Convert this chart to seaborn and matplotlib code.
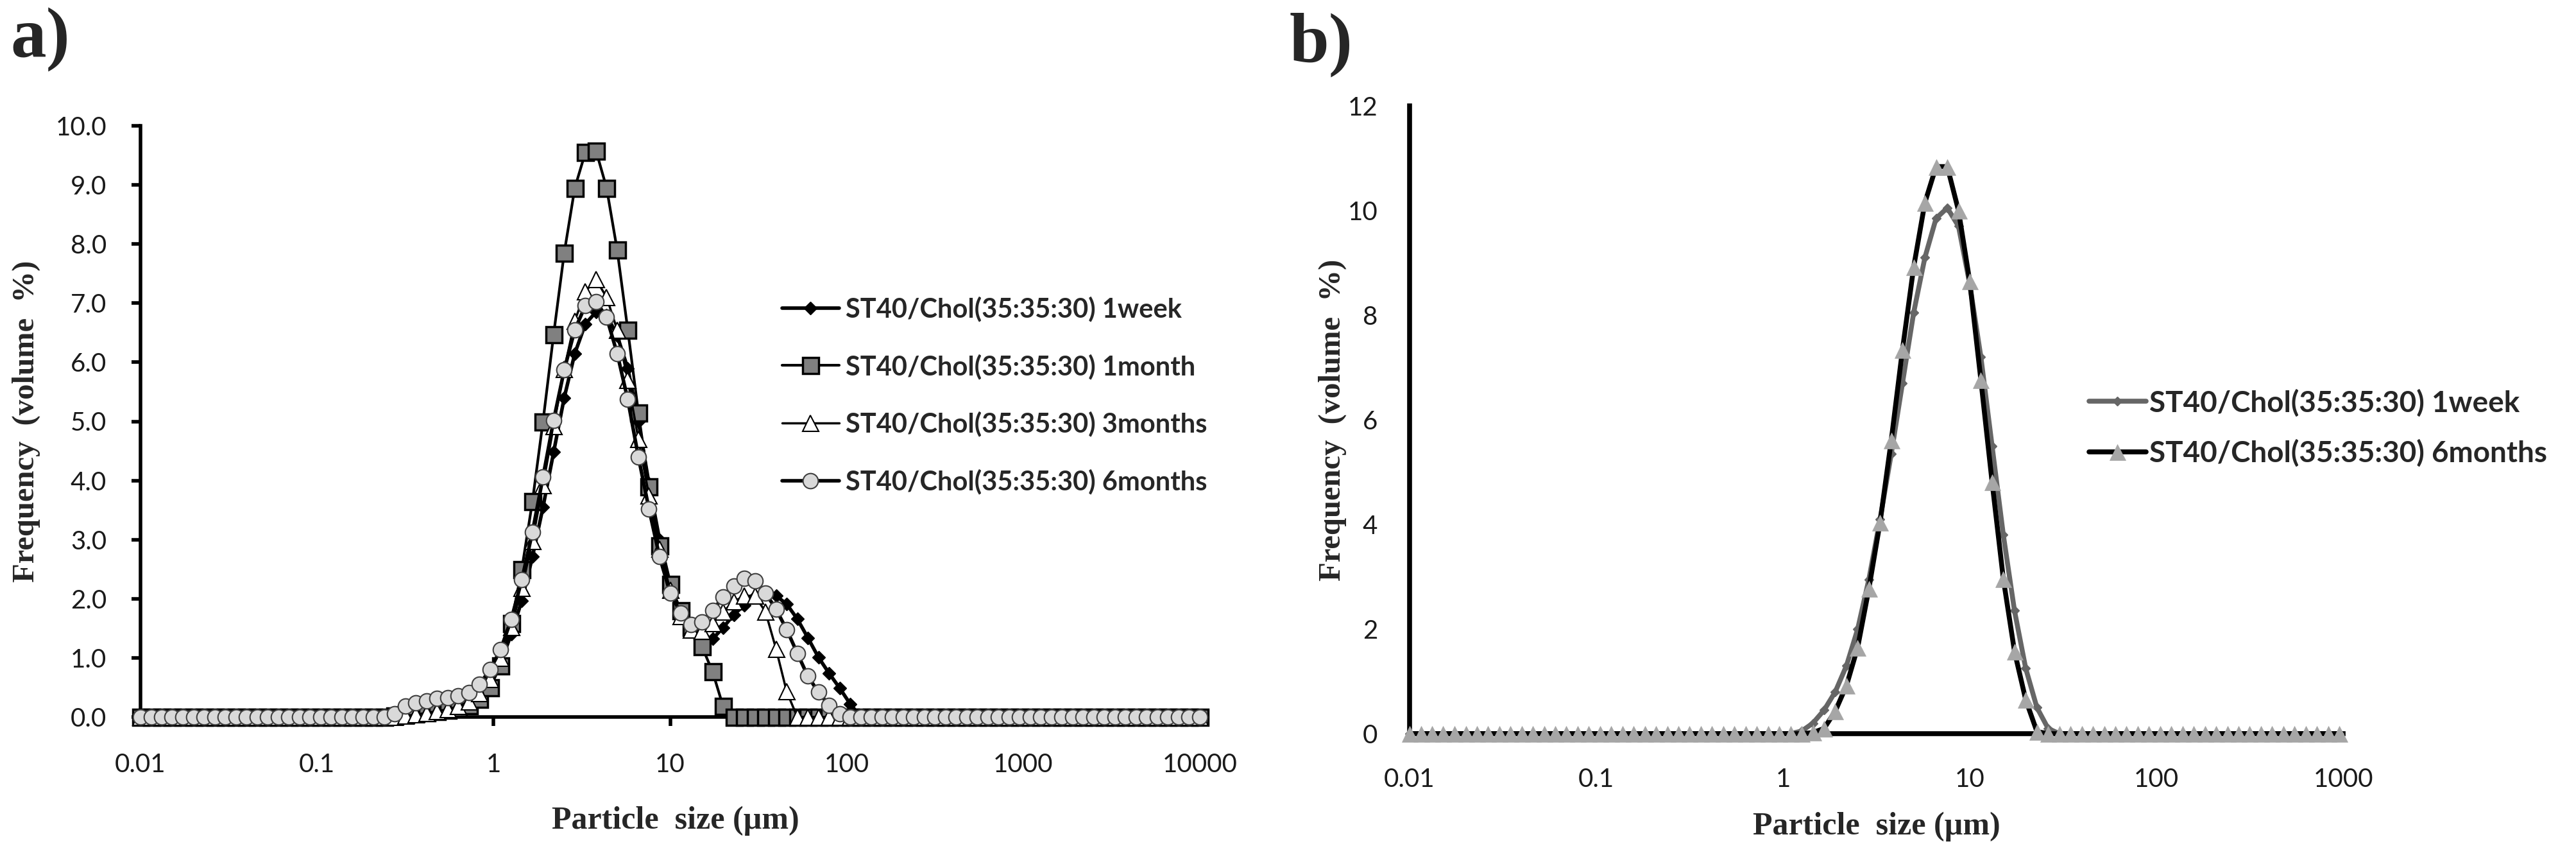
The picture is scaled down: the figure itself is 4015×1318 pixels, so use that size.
import matplotlib
matplotlib.use("Agg")
import matplotlib.pyplot as plt
from matplotlib.ticker import FormatStrFormatter, NullLocator
import seaborn as sns

# Size classes of the laser diffraction instrument (um)
size_a = [0.01, 0.0115, 0.0132, 0.0151, 0.0174, 0.0200, 0.0229, 0.0263, 0.0302, 0.0347,
          0.0398, 0.0457, 0.0525, 0.0603, 0.0692, 0.0794, 0.0912, 0.105, 0.120, 0.138,
          0.158, 0.182, 0.209, 0.240, 0.275, 0.316, 0.363, 0.417, 0.479, 0.550,
          0.631, 0.724, 0.832, 0.955, 1.096, 1.259, 1.445, 1.660, 1.905, 2.188,
          2.512, 2.884, 3.311, 3.802, 4.365, 5.012, 5.754, 6.607, 7.586, 8.710,
          10.0, 11.48, 13.18, 15.14, 17.38, 19.95, 22.91, 26.30, 30.20, 34.67,
          39.81, 45.71, 52.48, 60.26, 69.18, 79.43, 91.20, 104.7, 120.2, 138.0,
          158.5, 182.0, 208.9, 239.9, 275.4, 316.2, 363.1, 416.9, 478.6, 549.5,
          631.0, 724.4, 831.8, 955.0, 1096, 1259, 1445, 1660, 1905, 2188,
          2512, 2884, 3311, 3802, 4365, 5012, 5754, 6607, 7586, 8710,
          10000]
size_b = size_a[:84]

# panel a: volume % per size class
week1_a = [0, 0, 0, 0, 0, 0, 0, 0, 0, 0,
           0, 0, 0, 0, 0, 0, 0, 0, 0, 0,
           0, 0, 0, 0, 0.01, 0.03, 0.05, 0.07, 0.09, 0.11,
           0.15, 0.22, 0.35, 0.57, 0.92, 1.40, 1.97, 2.71, 3.55, 4.48,
           5.40, 6.15, 6.65, 6.85, 6.80, 6.45, 5.90, 5.00, 3.95, 3.00,
           2.25, 1.75, 1.50, 1.38, 1.32, 1.51, 1.73, 1.89, 2.04, 2.09,
           2.05, 1.91, 1.66, 1.34, 1.01, 0.74, 0.49, 0.22, 0, 0,
           0, 0, 0, 0, 0, 0, 0, 0, 0, 0,
           0, 0, 0, 0, 0, 0, 0, 0, 0, 0,
           0, 0, 0, 0, 0, 0, 0, 0, 0, 0,
           0]
month1_a = [0, 0, 0, 0, 0, 0, 0, 0, 0, 0,
            0, 0, 0, 0, 0, 0, 0, 0, 0, 0,
            0, 0, 0, 0, 0.02, 0.04, 0.06, 0.08, 0.10, 0.12,
            0.15, 0.20, 0.30, 0.50, 0.87, 1.58, 2.50, 3.65, 5.00, 6.47,
            7.85, 8.95, 9.55, 9.58, 8.95, 7.90, 6.55, 5.15, 3.90, 2.90,
            2.25, 1.80, 1.52, 1.19, 0.77, 0.18, 0, 0, 0, 0,
            0, 0, 0, 0, 0, 0, 0, 0, 0, 0,
            0, 0, 0, 0, 0, 0, 0, 0, 0, 0,
            0, 0, 0, 0, 0, 0, 0, 0, 0, 0,
            0, 0, 0, 0, 0, 0, 0, 0, 0, 0,
            0]
month3_a = [0, 0, 0, 0, 0, 0, 0, 0, 0, 0,
            0, 0, 0, 0, 0, 0, 0, 0, 0, 0,
            0, 0, 0, 0, 0, 0.02, 0.04, 0.07, 0.10, 0.13,
            0.18, 0.26, 0.40, 0.64, 1.00, 1.52, 2.18, 2.98, 3.92, 4.92,
            5.88, 6.70, 7.20, 7.40, 7.10, 6.55, 5.70, 4.70, 3.75, 2.85,
            2.15, 1.70, 1.48, 1.45, 1.58, 1.78, 1.95, 2.05, 2.05, 1.78,
            1.15, 0.43, 0, 0, 0, 0, 0, 0, 0, 0,
            0, 0, 0, 0, 0, 0, 0, 0, 0, 0,
            0, 0, 0, 0, 0, 0, 0, 0, 0, 0,
            0, 0, 0, 0, 0, 0, 0, 0, 0, 0,
            0]
month6_a = [0, 0, 0, 0, 0, 0, 0, 0, 0, 0,
            0, 0, 0, 0, 0, 0, 0, 0, 0, 0,
            0, 0, 0, 0, 0.05, 0.18, 0.24, 0.27, 0.31, 0.33,
            0.36, 0.41, 0.55, 0.80, 1.14, 1.65, 2.32, 3.13, 4.06, 5.02,
            5.87, 6.55, 6.96, 7.03, 6.76, 6.15, 5.37, 4.40, 3.52, 2.71,
            2.10, 1.76, 1.56, 1.61, 1.80, 2.03, 2.21, 2.34, 2.30, 2.10,
            1.82, 1.48, 1.08, 0.69, 0.42, 0.20, 0.05, 0, 0, 0,
            0, 0, 0, 0, 0, 0, 0, 0, 0, 0,
            0, 0, 0, 0, 0, 0, 0, 0, 0, 0,
            0, 0, 0, 0, 0, 0, 0, 0, 0, 0,
            0]

# panel b
week1_b = [0, 0, 0, 0, 0, 0, 0, 0, 0, 0,
           0, 0, 0, 0, 0, 0, 0, 0, 0, 0,
           0, 0, 0, 0, 0, 0, 0, 0, 0, 0,
           0, 0, 0, 0, 0, 0.05, 0.20, 0.45, 0.80, 1.30,
           2.00, 2.95, 4.10, 5.35, 6.70, 8.05, 9.10, 9.85, 10.05, 9.70,
           8.60, 7.20, 5.50, 3.80, 2.35, 1.25, 0.50, 0.10, 0, 0,
           0, 0, 0, 0, 0, 0, 0, 0, 0, 0,
           0, 0, 0, 0, 0, 0, 0, 0, 0, 0,
           0, 0, 0, 0]
month6_b = [0, 0, 0, 0, 0, 0, 0, 0, 0, 0,
            0, 0, 0, 0, 0, 0, 0, 0, 0, 0,
            0, 0, 0, 0, 0, 0, 0, 0, 0, 0,
            0, 0, 0, 0, 0, 0, 0.02, 0.10, 0.43, 0.92,
            1.65, 2.77, 4.04, 5.61, 7.34, 8.92, 10.15, 10.84, 10.84, 10.00,
            8.65, 6.76, 4.81, 2.96, 1.57, 0.65, 0.04, 0, 0, 0,
            0, 0, 0, 0, 0, 0, 0, 0, 0, 0,
            0, 0, 0, 0, 0, 0, 0, 0, 0, 0,
            0, 0, 0, 0]

labels_a = ["ST40/Chol(35:35:30) 1week", "ST40/Chol(35:35:30) 1month",
            "ST40/Chol(35:35:30) 3months", "ST40/Chol(35:35:30) 6months"]
labels_b = ["ST40/Chol(35:35:30) 1week", "ST40/Chol(35:35:30) 6months"]

xticks_a = [0.01, 0.1, 1, 10, 100, 1000, 10000]
xticks_b = [0.01, 0.1, 1, 10, 100, 1000]
xticklabels_a = ["0.01", "0.1", "1", "10", "100", "1000", "10000"]
xticklabels_b = ["0.01", "0.1", "1", "10", "100", "1000"]
yticks_a = [0, 1, 2, 3, 4, 5, 6, 7, 8, 9, 10]
yticks_b = [0, 2, 4, 6, 8, 10, 12]

sns.set_theme(style="white")
plt.rcParams['font.family'] = ['Lato', 'DejaVu Sans']

W, H = 4016, 1318
fig = plt.figure(figsize=(W / 100, H / 100), dpi=100)


def box(l, t, r, b):
    return [l / W, 1 - b / H, (r - l) / W, (b - t) / H]


ax_a = fig.add_axes(box(219, 196, 1870, 1117))
ax_b = fig.add_axes(box(2197, 165, 3652, 1143))

common = dict(clip_on=False, zorder=3)

# ---- panel a
sns.lineplot(x=size_a, y=week1_a, ax=ax_a, color='black', linewidth=4, marker='D', markersize=10,
             markerfacecolor='black', markeredgecolor='black', markeredgewidth=1,
             label=labels_a[0], **common)
sns.lineplot(x=size_a, y=month1_a, ax=ax_a, color='black', linewidth=3, marker='s', markersize=18,
             markerfacecolor='#808080', markeredgecolor='black', markeredgewidth=2.5,
             label=labels_a[1], **common)
sns.lineplot(x=size_a, y=month3_a, ax=ax_a, color='black', linewidth=2.5, marker='^', markersize=18,
             markerfacecolor='white', markeredgecolor='black', markeredgewidth=1.5,
             label=labels_a[2], **common)
sns.lineplot(x=size_a, y=month6_a, ax=ax_a, color='black', linewidth=4, marker='o', markersize=17,
             markerfacecolor='#d9d9d9', markeredgecolor='#404040', markeredgewidth=1.5,
             label=labels_a[3], **common)

# ---- panel b
sns.lineplot(x=size_b, y=week1_b, ax=ax_b, color='#666666', linewidth=5.5, marker='D', markersize=7,
             markerfacecolor='#666666', markeredgecolor='#666666', markeredgewidth=1,
             label=labels_b[0], **common)
sns.lineplot(x=size_b, y=month6_b, ax=ax_b, color='black', linewidth=5.5, marker='^', markersize=18,
             markerfacecolor='#a6a6a6', markeredgecolor='#a6a6a6', markeredgewidth=0.5,
             label=labels_b[1], **common)

serif = dict(family='Liberation Serif', weight='bold')

for ax, xt, xtl, yt, ymax, spw in [(ax_a, xticks_a, xticklabels_a, yticks_a, 10, 4),
                                   (ax_b, xticks_b, xticklabels_b, yticks_b, 12, 5.5)]:
    ax.set_xscale('log')
    ax.set_xlim(xt[0], xt[-1])
    ax.set_ylim(0, ymax)
    ax.set_xticks(xt)
    ax.set_xticklabels(xtl)
    ax.xaxis.set_minor_locator(NullLocator())
    ax.set_yticks(yt)
    ax.spines['top'].set_visible(False)
    ax.spines['right'].set_visible(False)
    for s in ('left', 'bottom'):
        ax.spines[s].set_linewidth(spw)
        ax.spines[s].set_color('black')
    ax.set_facecolor('white')
    for lab in ax.get_xticklabels() + ax.get_yticklabels():
        lab.set_fontsize(29)
        lab.set_color('#1a1a1a')
    ax.set_xlabel("Particle  size (\u00b5m)", fontsize=36, va='center', **serif)
    ax.set_ylabel("Frequency  (volume  %)", fontsize=35, va='center', **serif)

ax_a.yaxis.set_major_formatter(FormatStrFormatter('%.1f'))
ax_a.tick_params(axis='both', which='major', bottom=True, left=True, direction='out',
                 length=10, width=4, color='black')
ax_a.tick_params(axis='x', pad=30)
ax_a.tick_params(axis='y', pad=28)
ax_b.tick_params(axis='both', which='major', bottom=False, left=False, length=0)
ax_b.tick_params(axis='x', pad=38)
ax_b.tick_params(axis='y', pad=36)

ax_a.xaxis.set_label_coords(0.505, (1117 - 1279) / 921)
ax_a.yaxis.set_label_coords((41 - 219) / 1651, 0.5)
ax_b.xaxis.set_label_coords(0.5, (1143 - 1288) / 978)
ax_b.yaxis.set_label_coords((2077 - 2197) / 1455, 0.5)

ax_a.legend(loc='center left', bbox_to_anchor=(1219 / W, 1 - 616 / H), bbox_transform=fig.transFigure,
            frameon=False, prop={'family': 'Lato', 'weight': 'bold', 'size': 30},
            handlelength=2.13, handletextpad=0.25, labelspacing=1.2, borderpad=0, borderaxespad=0)
ax_b.legend(loc='center left', bbox_to_anchor=(3256 / W, 1 - 667 / H), bbox_transform=fig.transFigure,
            frameon=False, prop={'family': 'Lato', 'weight': 'bold', 'size': 33},
            handlelength=1.94, handletextpad=0.12, labelspacing=0.77, borderpad=0, borderaxespad=0)

fig.text(16 / W, 1 - 89 / H, "a)", fontsize=80, ha='left', va='baseline', **serif)
fig.text(2010 / W, 1 - 96 / H, "b)", fontsize=80, ha='left', va='baseline', **serif)

fig.savefig("out.png", dpi=100, facecolor='white')
